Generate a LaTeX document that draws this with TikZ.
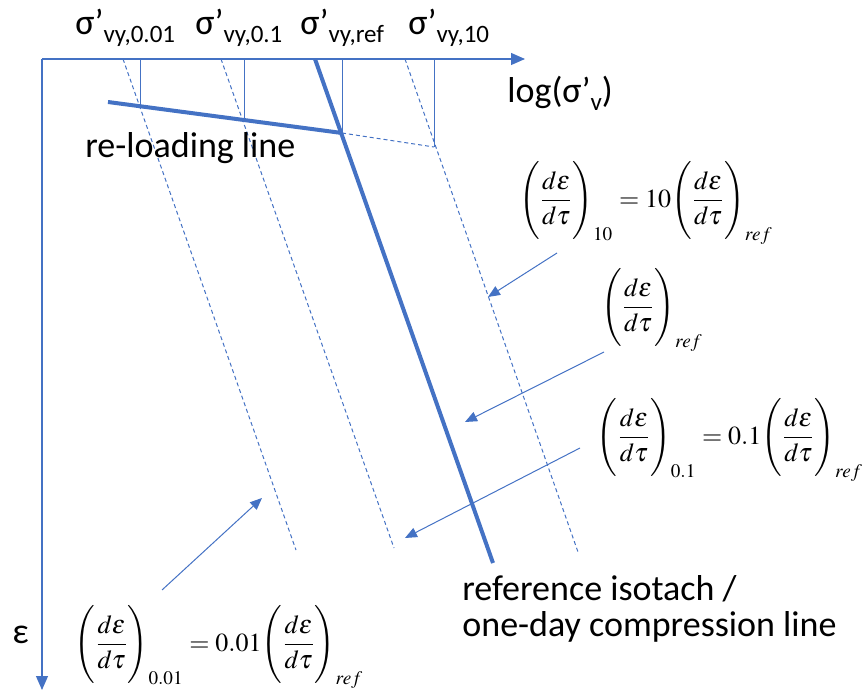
\documentclass[tikz,border=0pt]{standalone}
\usepackage{amsmath}
\usepackage{mathptmx}
\usepackage[no-math]{fontspec}
\setmainfont{Carlito}
\usetikzlibrary{arrows.meta}
\definecolor{isoblue}{RGB}{68,114,196}
\newcommand{\rate}{{\Bigg(\dfrac{d\varepsilon}{d\tau}\Bigg)}}
\newcommand{\sig}[1]{{\fontsize{18}{20}\selectfont σ’}\raisebox{-4pt}{\fontsize{12.5}{14}\selectfont #1}}

\begin{document}
\begin{tikzpicture}[x=0.5pt,y=-0.5pt,
  axis/.style={isoblue,line width=0.6pt,-{Triangle[length=7pt,width=6pt]}},
  tick/.style={isoblue,line width=0.5pt},
  isotach/.style={isoblue,line width=0.5pt,dash pattern=on 2pt off 1.5pt},
  mainline/.style={isoblue,line width=2pt},
  pointer/.style={isoblue,line width=0.5pt,-{Triangle[length=6pt,width=5pt]}},
  lbl/.style={font=\fontsize{18}{21}\selectfont,anchor=base west,inner sep=0pt},
  eq/.style={font=\fontsize{13}{15}\selectfont,inner sep=0pt}]
\useasboundingbox (0,0) rectangle (864,690);
% axes
\coordinate (O) at (42,59);
\coordinate (xend) at (525,59);
\coordinate (yend) at (42,690);
\draw[axis] (O) -- (xend);
\draw[axis] (O) -- (yend);
% isotachs
\draw[isotach] (123,59) -- (296,550);
\draw[isotach] (221,59) -- (394,548);
\draw[isotach] (405,59) -- (578,552);
\draw[mainline] (315,59) -- (493,563);
% re-loading line and yield stresses
\coordinate (r1) at (108,102);
\coordinate (r2) at (342,133);
\coordinate (r3) at (434,147);
\draw[mainline] (r1) -- (r2);
\draw[isotach] (r2) -- (r3);
\draw[tick] (140,59) -- (140,107);
\draw[tick] (244,59) -- (244,120);
\draw[tick] (r2) -- (342,59);
\draw[tick] (r3) -- (434,59);
% labels
\node[lbl] (s001) at (75,35) {\sig{vy,0.01}};
\node[lbl] (s01) at (195,35) {\sig{vy,0.1}};
\node[lbl] (sref) at (300,35) {\sig{vy,ref}};
\node[lbl] (s10) at (408,35) {\sig{vy,10}};
\node[lbl] (logs) at (507,103) {log(σ’\raisebox{-4pt}{\fontsize{12.5}{14}\selectfont v})};
\node[lbl] (reload) at (85,158) {re-loading line};
\node[lbl] (ref1) at (462,600) {reference isotach /};
\node[lbl] (ref2) at (462,636) {one-day compression line};
\node[lbl] (eps) at (12,643) {ε};
% rates
\node[eq] (eq10) at (646,203) {$\rate_{10} = 10\rate_{ref}$};
\node[eq] (eqref) at (652,310) {$\rate_{ref}$};
\node[eq] (eq01) at (730,440) {$\rate_{0.1} = 0.1\rate_{ref}$};
\node[eq] (eq001) at (219,647) {$\rate_{0.01} = 0.01\rate_{ref}$};
\coordinate (b10) at (557,253);
\coordinate (bref) at (604,352);
\coordinate (b01) at (580,448);
\coordinate (b001) at (162,590);
\coordinate (a10) at (488,297);
\coordinate (aref) at (465,422);
\coordinate (a01) at (405,538);
\coordinate (a001) at (262,498);
\draw[pointer] (b10) -- (a10);
\draw[pointer] (bref) -- (aref);
\draw[pointer] (b01) -- (a01);
\draw[pointer] (b001) -- (a001);
\end{tikzpicture}
\end{document}
